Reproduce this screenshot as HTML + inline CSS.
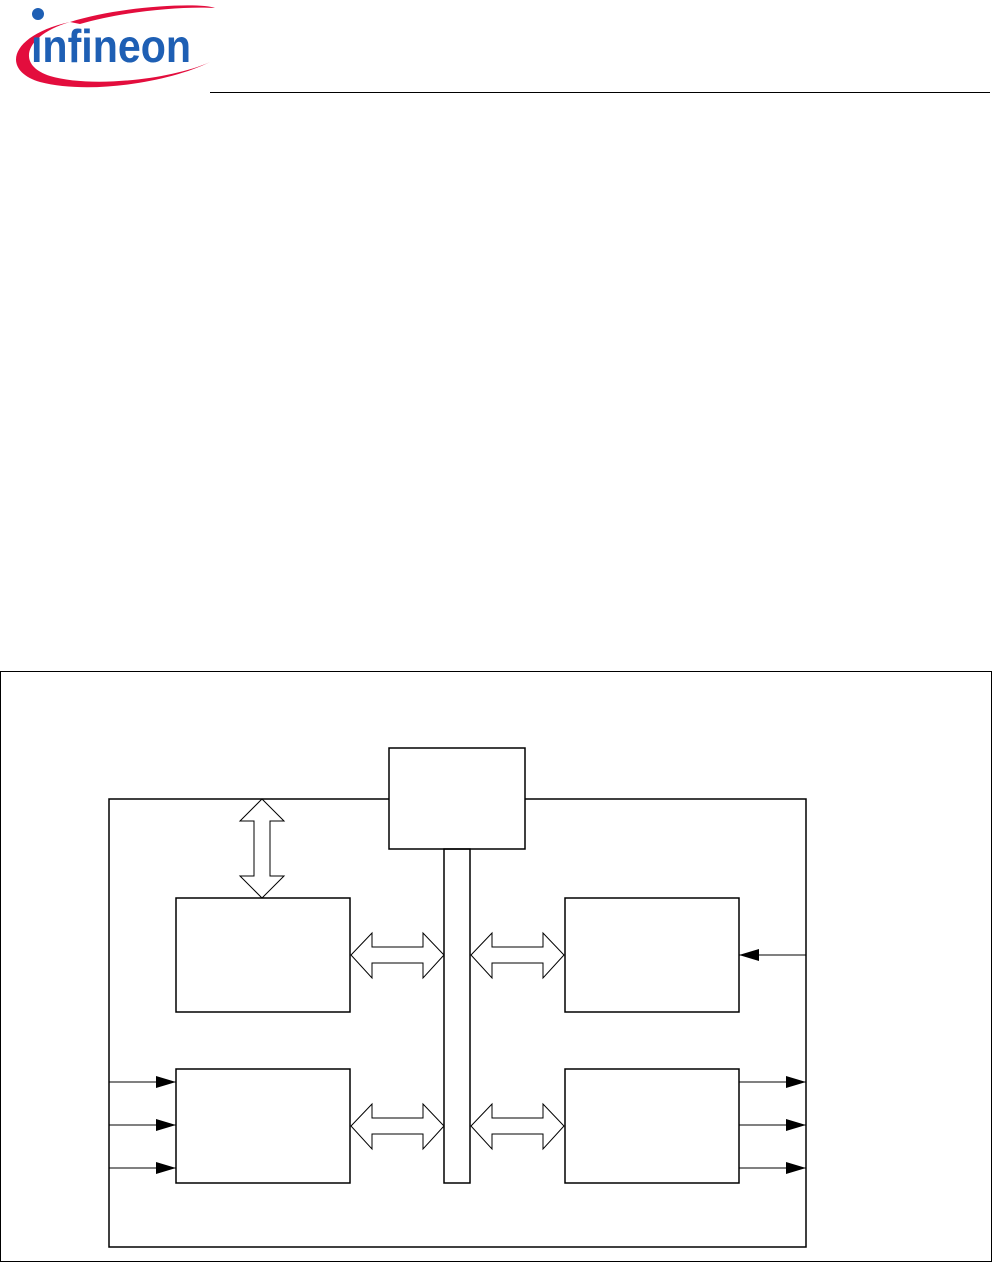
<!DOCTYPE html>
<html><head><style>body{margin:0;background:#fff}svg{display:block}</style></head><body>
<svg width="993" height="1263" viewBox="0 0 993 1263" xmlns="http://www.w3.org/2000/svg">
<defs><marker id="a" markerWidth="10" markerHeight="8" refX="10" refY="4" orient="auto" markerUnits="userSpaceOnUse"><path d="M0,0L20,4L0,8Z" transform="scale(0.5,1)" fill="#000"/></marker>
<marker id="b" viewBox="0 0 20 12" markerWidth="20" markerHeight="12" refX="20" refY="6" orient="auto" markerUnits="userSpaceOnUse"><path d="M0,0L20,6L0,12Z" fill="#000"/></marker></defs>
<path d="M70,22 C10,35 0,70 40,82 C90,95 170,82 210,62 C170,80 90,88 50,76 C15,65 25,35 70,22Z" fill="#e30d3d"/>
<path d="M70,22 C120,6 200,2 215,8 C180,6 120,12 80,24Z" fill="#e30d3d"/>
<circle cx="38" cy="14" r="6" fill="#1e5fb4"/>
<text x="31" y="62" font-family="Liberation Sans, sans-serif" font-size="46" font-weight="bold" fill="#1e5fb4" textLength="160" lengthAdjust="spacingAndGlyphs">ınfineon</text>
<line x1="210" y1="92.5" x2="990" y2="92.5" stroke="#000" stroke-width="1"/>
<g fill="none" stroke="#000" stroke-width="1.5">
<rect x="0.5" y="671.5" width="991" height="590" stroke-width="1"/>
<rect x="109" y="799" width="697" height="448"/>
<rect x="389" y="748" width="136" height="101" fill="#fff"/>
<rect x="444" y="849" width="26" height="334"/>
<rect x="176" y="898" width="174" height="114"/>
<rect x="565" y="898" width="174" height="114"/>
<rect x="176" y="1069" width="174" height="114"/>
<rect x="565" y="1069" width="174" height="114"/>
<path d="M351,955 L372,933 L372,947 L423,947 L423,933 L444,955 L423,978 L423,963 L372,963 L372,978 Z" fill="#fff" stroke-width="1"/>
<path d="M471,955 L492,933 L492,947 L543,947 L543,933 L564,955 L543,978 L543,963 L492,963 L492,978 Z" fill="#fff" stroke-width="1"/>
<path d="M351,1126 L372,1104 L372,1118 L423,1118 L423,1104 L444,1126 L423,1149 L423,1134 L372,1134 L372,1149 Z" fill="#fff" stroke-width="1"/>
<path d="M471,1126 L492,1104 L492,1118 L543,1118 L543,1104 L564,1126 L543,1149 L543,1134 L492,1134 L492,1149 Z" fill="#fff" stroke-width="1"/>
<path d="M262,799 L284,821 L270,821 L270,876 L284,876 L262,898 L240,876 L254,876 L254,821 L240,821 Z" fill="#fff" stroke-width="1"/>
</g>
<g stroke="#000" stroke-width="1">
<line x1="109" y1="1082" x2="176" y2="1082" marker-end="url(#b)"/>
<line x1="109" y1="1125" x2="176" y2="1125" marker-end="url(#b)"/>
<line x1="109" y1="1168" x2="176" y2="1168" marker-end="url(#b)"/>
<line x1="739" y1="1082" x2="806" y2="1082" marker-end="url(#b)"/>
<line x1="739" y1="1125" x2="806" y2="1125" marker-end="url(#b)"/>
<line x1="739" y1="1168" x2="806" y2="1168" marker-end="url(#b)"/>
<line x1="806" y1="955" x2="739" y2="955" marker-end="url(#b)"/>
</g>
</svg>
</body></html>
